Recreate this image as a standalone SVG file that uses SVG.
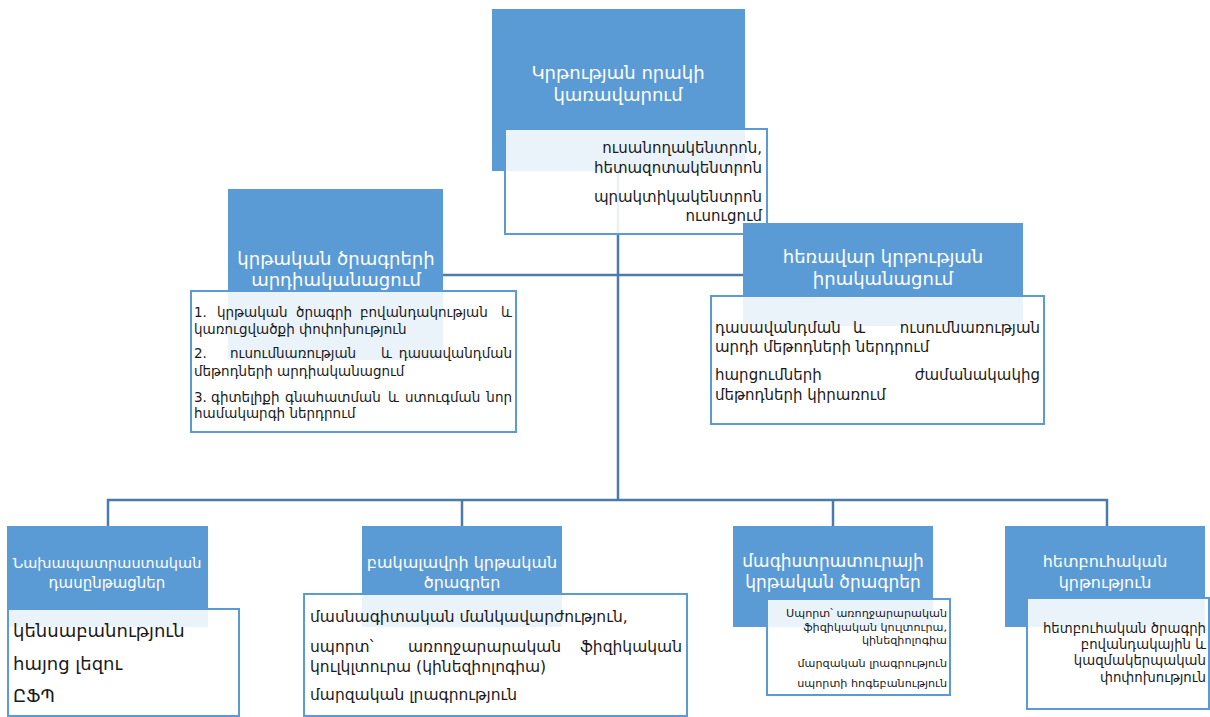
<svg xmlns="http://www.w3.org/2000/svg" width="1210" height="717" viewBox="0 0 1210 717">
<style>
  text { font-family: "DejaVu Sans", "Noto Sans", sans-serif; }
  .hdr { fill: #5B9BD5; }
  .box { fill: #FFFFFF; fill-opacity: 0.88; stroke: #5B9BD5; stroke-width: 2; }
  .ttl { fill: #FFFFFF; text-anchor: middle; }
  .txt { fill: #1a1a1a; }
  .r { text-anchor: end; }
  .con { stroke: #4A7BAB; stroke-width: 2.5; fill: none; }
</style>
<rect width="1210" height="717" fill="#FFFFFF"/>
<g id="connectors">
  <line class="con" x1="618" y1="171" x2="618" y2="500"/>
  <line class="con" x1="443" y1="275" x2="743" y2="275"/>
  <line class="con" x1="107" y1="500" x2="1108" y2="500"/>
  <line class="con" x1="108" y1="499" x2="108" y2="526"/>
  <line class="con" x1="462" y1="499" x2="462" y2="526"/>
  <line class="con" x1="833" y1="499" x2="833" y2="526"/>
  <line class="con" x1="1107" y1="499" x2="1107" y2="526"/>
</g>
<g id="node-top">
  <rect class="hdr" x="492" y="9" width="253" height="162"/>
  <text class="ttl" x="618" y="79" font-size="18">Կրթության որակի</text>
  <text class="ttl" x="618" y="101" font-size="18">կառավարում</text>
  <rect class="box" x="505" y="129" width="262" height="105"/>
  <text class="txt r" x="762" y="153" font-size="15">ուսանողակենտրոն,</text>
  <text class="txt r" x="762" y="173" font-size="15">հետազոտակենտրոն</text>
  <text class="txt r" x="762" y="202" font-size="15">պրակտիկակենտրոն</text>
  <text class="txt r" x="762" y="221" font-size="15">ուսուցում</text>
</g>
<g id="node-left">
  <rect class="hdr" x="228" y="189" width="215" height="171"/>
  <text class="ttl" x="336" y="265" font-size="18">կրթական ծրագրերի</text>
  <text class="ttl" x="336" y="286" font-size="18">արդիականացում</text>
  <rect class="box" x="191" y="291" width="325" height="141"/>
  <g class="txt" font-size="13.5">
    <text x="194" y="317">1.</text>
    <text x="217" y="317">կրթական</text>
    <text x="296" y="317">ծրագրի</text>
    <text x="360" y="317">բովանդակության</text>
    <text class="r" x="512" y="317">և</text>
    <text x="194" y="334">կառուցվածքի փոփոխություն</text>
    <text x="194" y="358">2.</text>
    <text x="230" y="358">ուսումնառության</text>
    <text x="381" y="358">և</text>
    <text class="r" x="512" y="358">դասավանդման</text>
    <text x="194" y="376">մեթոդների արդիականացում</text>
    <text x="194" y="402">3.</text>
    <text x="211" y="402">գիտելիքի</text>
    <text x="285" y="402">գնահատման</text>
    <text x="388" y="402">և</text>
    <text x="405" y="402">ստուգման</text>
    <text class="r" x="512" y="402">նոր</text>
    <text x="194" y="418">համակարգի ներդրում</text>
  </g>
</g>
<g id="node-right">
  <rect class="hdr" x="743" y="223" width="280" height="103"/>
  <text class="ttl" x="883" y="263" font-size="18">հեռավար կրթության</text>
  <text class="ttl" x="883" y="285" font-size="18">իրականացում</text>
  <rect class="box" x="711" y="296" width="333" height="128"/>
  <g class="txt" font-size="15">
    <text x="715" y="333">դասավանդման</text>
    <text x="853" y="333">և</text>
    <text class="r" x="1040" y="333">ուսումնառության</text>
    <text x="715" y="352">արդի մեթոդների ներդրում</text>
    <text x="715" y="380">հարցումների</text>
    <text class="r" x="1040" y="380">ժամանակակից</text>
    <text x="715" y="400">մեթոդների կիրառում</text>
  </g>
</g>
<g id="node-b1">
  <rect class="hdr" x="7" y="526" width="201" height="101"/>
  <text class="ttl" x="107" y="568" font-size="14.5">Նախապատրաստական</text>
  <text class="ttl" x="107" y="588" font-size="15">դասընթացներ</text>
  <rect class="box" x="8" y="609" width="231" height="107"/>
  <text class="txt" x="13" y="637" font-size="18">կենսաբանություն</text>
  <text class="txt" x="13" y="670" font-size="18">հայոց լեզու</text>
  <text class="txt" x="13" y="702" font-size="18">ԸՖՊ</text>
</g>
<g id="node-b2">
  <rect class="hdr" x="362" y="526" width="200" height="101"/>
  <text class="ttl" x="462" y="568" font-size="16">բակալավրի կրթական</text>
  <text class="ttl" x="462" y="588" font-size="16">ծրագրեր</text>
  <rect class="box" x="304" y="594" width="383" height="122"/>
  <g class="txt" font-size="15.5">
    <text x="310" y="622">մասնագիտական մանկավարժություն,</text>
    <text x="310" y="652">սպորտ՝</text>
    <text x="408" y="652">առողջարարական</text>
    <text class="r" x="682" y="652">ֆիզիկական</text>
    <text x="310" y="672">կուլկլտուրա (կինեզիոլոգիա)</text>
    <text x="310" y="700">մարզական լրագրություն</text>
  </g>
</g>
<g id="node-b3">
  <rect class="hdr" x="733" y="526" width="200" height="101"/>
  <text class="ttl" x="833" y="567" font-size="17">մագիստրատուրայի</text>
  <text class="ttl" x="833" y="588" font-size="17">կրթական ծրագրեր</text>
  <rect class="box" x="767" y="599" width="183" height="96"/>
  <g class="txt r" font-size="11.2">
    <text x="947" y="617">Սպորտ՝ առողջարարական</text>
    <text x="947" y="631">ֆիզիկական կուլտուրա,</text>
    <text x="947" y="644">կինեզիոլոգիա</text>
    <text x="947" y="667">մարզական լրագրություն</text>
    <text x="947" y="687">սպորտի հոգեբանություն</text>
  </g>
</g>
<g id="node-b4">
  <rect class="hdr" x="1005" y="526" width="200" height="101"/>
  <text class="ttl" x="1105" y="567" font-size="16">հետբուհական</text>
  <text class="ttl" x="1105" y="588" font-size="16">կրթություն</text>
  <rect class="box" x="1027" y="598" width="182" height="111"/>
  <g class="txt r" font-size="13.3">
    <text x="1206" y="633">հետբուհական ծրագրի</text>
    <text x="1206" y="649">բովանդակային և</text>
    <text x="1206" y="665">կազմակերպական</text>
    <text x="1206" y="682">փոփոխություն</text>
  </g>
</g>
</svg>
